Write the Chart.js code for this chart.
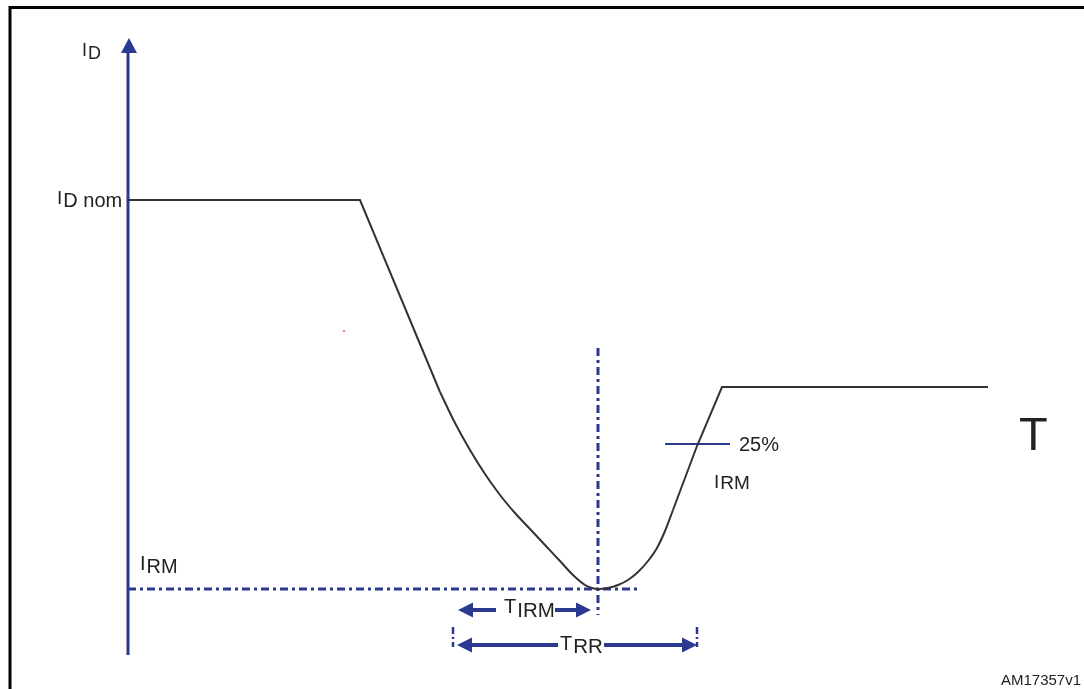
<!DOCTYPE html>
<html>
<head>
<meta charset="utf-8">
<script src="https://cdn.jsdelivr.net/npm/chart.js@4/dist/chart.umd.min.js"></script>
<style>
  html, body { margin: 0; padding: 0; background: #fff; }
  canvas { display: block; }
</style>
</head>
<body>
<canvas id="recovery" width="1084" height="689"></canvas>
<script>
// Drain current during reverse recovery (time and current in arbitrary units)
const timeT = [0, 23.2, 31.2, 32.7, 34.2, 35.7, 37.2, 38.7, 40.2, 41.7, 43.2, 44.5, 45.7, 46.4, 47.0,
               48.0, 49.0, 50.0, 51.0, 52.0, 52.9, 53.7, 54.5, 56.9, 59.4, 86.0];
const currentI = [93.5, 93.5, -2.5, -18, -31.5, -43.5, -54, -63, -71, -79, -87, -94, -99, -100.5, -101,
                  -100.5, -99, -96.5, -92.5, -87, -80.5, -72, -61.5, -29.5, 0, 0];
const curveFrom = 2, curveTo = 22;   // rounded part of the waveform

const idNom = 93.5;        // I_D nom level
const irmLevel = -101;     // I_RM peak
const irm25 = -28.5;       // 25% of I_RM
const tPeak = 47.0;        // time of I_RM peak
const tIrmStart = 33.0;    // T_IRM arrow
const tRrStart = 32.9;     // T_RR arrow
const tRrEnd = 56.9;
const strayDot = [21.6, 28];

const blue = '#2b3990';
const dashDot = [8, 4, 3, 4];

const pts = (xs, ys) => xs.map((x, i) => ({ x: x, y: ys[i] }));
const part = (a, b) => pts(timeT.slice(a, b + 1), currentI.slice(a, b + 1));

const annotations = {
  id: 'annotations',
  beforeDraw(chart) {
    const c = chart.ctx;
    c.save();
    c.fillStyle = '#fff';
    c.fillRect(0, 0, chart.width, chart.height);
    // frame
    c.strokeStyle = '#000';
    c.lineWidth = 3;
    c.beginPath();
    c.moveTo(1084, 7.5);
    c.lineTo(10, 7.5);
    c.lineTo(10, 689);
    c.stroke();
    c.restore();
  },
  afterDatasetsDraw(chart) {
    const c = chart.ctx;
    const sx = chart.scales.x, sy = chart.scales.y;
    const px = v => sx.getPixelForValue(v);
    const py = v => sy.getPixelForValue(v);

    c.save();
    c.fillStyle = blue;
    c.strokeStyle = blue;

    // arrow head on the current axis
    c.beginPath();
    c.moveTo(px(0) + 1, py(174.5));
    c.lineTo(px(0) - 7, py(167));
    c.lineTo(px(0) + 9, py(167));
    c.closePath();
    c.fill();

    function head(x, y, dir) {
      c.beginPath();
      c.moveTo(x, y);
      c.lineTo(x - dir * 15, y - 7.5);
      c.lineTo(x - dir * 15, y + 7.5);
      c.closePath();
      c.fill();
    }
    function shaft(x1, x2, y) {
      c.lineWidth = 4;
      c.beginPath();
      c.moveTo(x1, y);
      c.lineTo(x2, y);
      c.stroke();
    }

    // T_IRM arrow
    let y = py(-111.5);
    head(px(tIrmStart), y, -1);
    shaft(px(tIrmStart) + 14, 496, y);
    shaft(555, px(tPeak) - 20, y);
    head(px(tPeak) - 7, y, 1);

    // T_RR arrow
    y = py(-129);
    head(px(tRrStart), y, -1);
    shaft(px(tRrStart) + 14, 558, y);
    shaft(604, px(tRrEnd) - 14, y);
    head(px(tRrEnd), y, 1);

    // end markers of T_RR
    c.lineWidth = 2.5;
    c.setLineDash([7, 3, 2, 3]);
    [tRrStart - 0.4, tRrEnd].forEach(t => {
      c.beginPath();
      c.moveTo(px(t), py(-120));
      c.lineTo(px(t), py(-130));
      c.stroke();
    });
    c.setLineDash([]);

    // labels
    const font = s => s + 'px "Liberation Sans", Arial, sans-serif';
    function label(main, sub, x, y, mSize, sSize, raise) {
      c.fillStyle = '#222';
      c.textBaseline = 'alphabetic';
      c.textAlign = 'left';
      c.font = font(mSize);
      c.fillText(main, x, y - raise);
      const w = c.measureText(main).width;
      c.font = font(sSize);
      c.fillText(sub, x + w + 1, y);
    }
    label('I', 'D', px(-4.6), py(164), 18, 18, 3);
    label('I', 'D nom', px(-7.1), py(90), 19, 20, 3);
    label('I', 'RM', px(1.2), py(-93), 20, 20, 3);
    label('I', 'RM', px(58.6), py(-51), 19, 19, 1);
    label('T', 'IRM', px(37.6), py(-115), 20, 20.5, 4);
    label('T', 'RR', px(43.2), py(-133), 20, 20.5, 3);

    c.fillStyle = '#222';
    c.font = font(20);
    c.fillText('25%', 739, py(-32));
    c.font = font(47);
    c.fillText('T', 1019, py(-31.5));
    c.font = font(15);
    c.textAlign = 'right';
    c.fillText('AM17357v1', 1081, 685);
    c.restore();
  }
};

const lineStyle = { showLine: true, borderColor: '#333', borderWidth: 2, pointRadius: 0 };

new Chart(document.getElementById('recovery'), {
  type: 'scatter',
  data: {
    datasets: [
      Object.assign({ data: part(0, curveFrom), tension: 0 }, lineStyle),
      Object.assign({ data: part(curveFrom, curveTo), cubicInterpolationMode: 'monotone' }, lineStyle),
      Object.assign({ data: part(curveTo, timeT.length - 1), tension: 0 }, lineStyle),
      {
        data: pts([0, 0], [-134, 167]),
        showLine: true,
        borderColor: blue,
        borderWidth: 3,
        pointRadius: 0
      },
      {
        data: pts([0, 51.2], [irmLevel, irmLevel]),
        showLine: true,
        borderColor: blue,
        borderWidth: 3,
        borderDash: dashDot,
        pointRadius: 0
      },
      {
        data: pts([tPeak, tPeak], [19.5, -114]),
        showLine: true,
        borderColor: blue,
        borderWidth: 3,
        borderDash: dashDot,
        pointRadius: 0
      },
      {
        data: pts([53.7, 60.2], [irm25, irm25]),
        showLine: true,
        borderColor: blue,
        borderWidth: 2,
        pointRadius: 0
      },
      {
        data: pts([strayDot[0]], [strayDot[1]]),
        pointRadius: 1.2,
        pointBorderWidth: 0,
        backgroundColor: '#f08080'
      }
    ]
  },
  options: {
    responsive: false,
    animation: false,
    layout: { padding: 0, autoPadding: false },
    plugins: {
      legend: { display: false },
      tooltip: { enabled: false }
    },
    scales: {
      x: { type: 'linear', display: false, min: -12.8, max: 95.6 },
      y: { type: 'linear', display: false, min: -151, max: 193.5 }
    }
  },
  plugins: [annotations]
});
</script>
</body>
</html>
